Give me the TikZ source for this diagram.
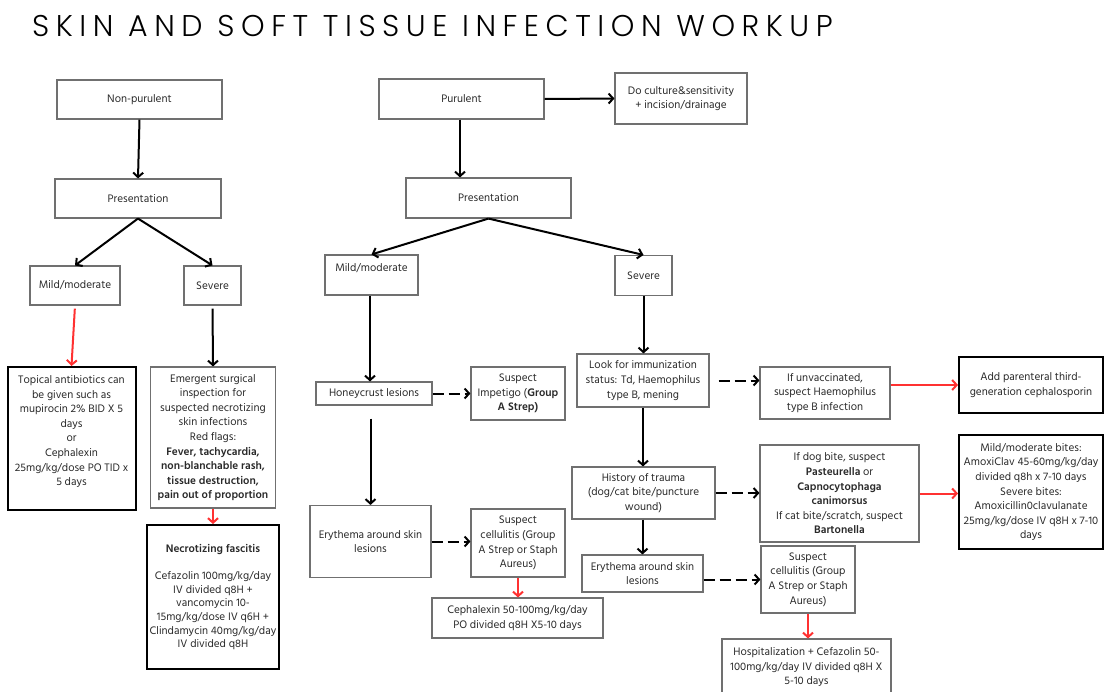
\documentclass[tikz,border=0pt]{standalone}
\usepackage{fontspec}
\setmainfont{Hind Madurai}[Numbers=Proportional]
\newfontfamily\titlefont{Poppins}[UprightFont=* Light, LetterSpace=21.8]
\usetikzlibrary{arrows.meta}
\definecolor{redarr}{HTML}{FF3131}
\definecolor{boxgray}{HTML}{707070}
\definecolor{txt}{HTML}{2A2A2A}
\begin{document}
\begin{tikzpicture}[x=1pt,y=-1pt,
  box/.style={draw=boxgray, line width=1.1pt, inner sep=0pt, align=center, text=txt,
    font=\fontsize{11.2}{14.6}\selectfont},
  thickbox/.style={box, draw=black, line width=2pt},
  plain/.style={inner sep=0pt, align=center, text=txt, font=\fontsize{11.2}{14.6}\selectfont},
  arr/.style={line width=2pt, -{Straight Barb[length=4.5pt,width=10pt]}},
  redarrow/.style={arr, draw=redarr},
  dasharr/.style={arr, dash pattern=on 11pt off 5pt}
]
\useasboundingbox (0,0) rectangle (1114,691);
\fill[white] (0,0) rectangle (1114,691);

\node[anchor=base west, inner sep=0pt] (title) at (32,36)
  {\titlefont\fontsize{30}{30}\selectfont SKIN AND SOFT TISSUE INFECTION WORKUP};

% left column
\node[box, minimum width=165, minimum height=39] (np) at (139.5,99.5) {Non-purulent};
\node[box, minimum width=166, minimum height=39] (pl) at (138,198.5) {Presentation};
\node[box, minimum width=90, minimum height=39] (ml) at (75,285.5) {Mild/moderate};
\node[box, minimum width=57, minimum height=39] (sl) at (212.5,285.5) {Severe};
\node[thickbox, minimum width=128, minimum height=143] (top) at (71.5,438.5) {};
\node[plain] (topt) at (71.5,431.5) {Topical antibiotics can\\be given such as\\mupirocin 2\% BID X 5\\days\\or\\Cephalexin\\25mg/kg/dose PO TID x\\5 days};
\node[box, minimum width=125, minimum height=141] (em) at (213,437.5) {Emergent surgical\\inspection for\\suspected necrotizing\\skin infections\\Red flags:\\\textbf{Fever, tachycardia,}\\\textbf{non-blanchable rash,}\\\textbf{tissue destruction,}\\\textbf{pain out of proportion}};
\node[thickbox, minimum width=132, minimum height=144, font=\fontsize{11.2}{13.7}\selectfont] (nf) at (213,597) {\textbf{Necrotizing fascitis}\\[13.7pt]Cefazolin 100mg/kg/day\\IV divided q8H +\\vancomycin 10-\\15mg/kg/dose IV q6H +\\Clindamycin 40mg/kg/day\\IV divided q8H};

% middle
\node[box, minimum width=165, minimum height=40] (pu) at (461.5,99) {Purulent};
\node[box, minimum width=132, minimum height=51] (dc) at (681,98.5) {Do culture\&sensitivity\\+ incision/drainage};
\node[box, minimum width=165, minimum height=40] (pm) at (488.5,198) {Presentation};
\node[box, minimum width=93, minimum height=40] (mm) at (371.5,275) {};
\node[plain] (mmt) at (371.5,268) {Mild/moderate};
\node[box, minimum width=57, minimum height=40] (sm) at (643.5,275.5) {Severe};
\node[box, minimum width=116, minimum height=23] (hc) at (374,393.5) {Honeycrust lesions};
\node[box, minimum width=94, minimum height=53] (im) at (518,393.5) {Suspect\\Impetigo (\textbf{Group}\\\textbf{A Strep)}};
\node[box, minimum width=121, minimum height=72] (el) at (370.5,541.5) {Erythema around skin\\lesions};
\node[box, minimum width=94, minimum height=68] (cm) at (518,543) {Suspect\\cellulitis (Group\\A Strep or Staph\\Aureus)};
\node[box, minimum width=171, minimum height=40] (ce) at (517.5,618) {Cephalexin 50-100mg/kg/day\\PO divided q8H X5-10 days};

% right
\node[box, minimum width=132, minimum height=53] (lf) at (643,380.5) {Look for immunization\\status: Td, Haemophilus\\type B, mening};
\node[box, minimum width=130, minimum height=52] (uv) at (825,393) {If unvaccinated,\\suspect Haemophilus\\type B infection};
\node[thickbox, minimum width=144, minimum height=56] (ap) at (1031,385) {Add parenteral third-\\generation cephalosporin};
\node[box, minimum width=143, minimum height=52] (ht) at (643.5,493) {History of trauma\\(dog/cat bite/puncture\\wound)};
\node[box, minimum width=159, minimum height=97] (db) at (839.5,493.5) {If dog bite, suspect\\\textbf{Pasteurella} or\\\textbf{Capnocytophaga}\\\textbf{canimorsus}\\If cat bite/scratch, suspect\\\textbf{Bartonella}};
\node[thickbox, minimum width=144, minimum height=114] (mb) at (1031,492) {Mild/moderate bites:\\AmoxiClav 45-60mg/kg/day\\divided q8h x 7-10 days\\Severe bites:\\Amoxicillin0clavulanate\\25mg/kg/dose IV q8H x 7-10\\days};
\node[box, minimum width=121, minimum height=37] (er) at (642.5,573.5) {Erythema around skin\\lesions};
\node[box, minimum width=94, minimum height=67] (cr) at (808,579.5) {Suspect\\cellulitis (Group\\A Strep or Staph\\Aureus)};
\node[box, minimum width=169, minimum height=56] (ho) at (806.5,667) {Hospitalization + Cefazolin 50-\\100mg/kg/day IV divided q8H X\\5-10 days};

% connectors
\draw[arr] (np.south) -- (pl.north);
\draw[arr] (pl.south) -- (ml.north);
\draw[arr] (pl.south) -- (sl.north);
\draw[redarrow, shorten <=3pt] (ml.south) -- (top.north);
\draw[arr, shorten <=3pt] (sl.south) -- (em.north);
\draw[redarrow] (em.south) -- (nf.north);

\draw[arr] (pu.east) -- (dc.west);
\draw[arr] ([xshift=-1.5pt]pu.south) -- ([xshift=-1.5pt]pu.south |- pm.north);
\draw[arr] (pm.south) -- (mm.north);
\draw[arr] (pm.south) -- (sm.north);
\draw[arr] ([xshift=-1.5pt]mm.south) -- ([xshift=-1.5pt]mm.south |- hc.north);
\draw[arr, shorten <=13pt] (hc.south -| el.north) -- (el.north);
\draw[dasharr] (hc.east) -- (im.west);
\draw[dasharr] (el.east) -- (el.east -| cm.west);
\draw[redarrow] (cm.south) -- (cm.south |- ce.north);

\draw[arr] (sm.south) -- (sm.south |- lf.north);
\draw[dasharr, shorten <=9pt] (lf.east) -- (lf.east -| uv.west);
\draw[redarrow] (uv.east |- ap.west) -- (ap.west);
\draw[arr] (lf.south) -- (lf.south |- ht.north);
\draw[dasharr] (ht.east) -- (ht.east -| db.west);
\draw[redarrow] (db.east) -- (db.east -| mb.west);
\draw[arr] ([xshift=-1pt]ht.south) -- ([xshift=-1pt]ht.south |- er.north);
\draw[dasharr] (er.east |- cr.west) -- (cr.west);
\draw[redarrow] (cr.south) -- (cr.south |- ho.north);
\end{tikzpicture}
\end{document}
